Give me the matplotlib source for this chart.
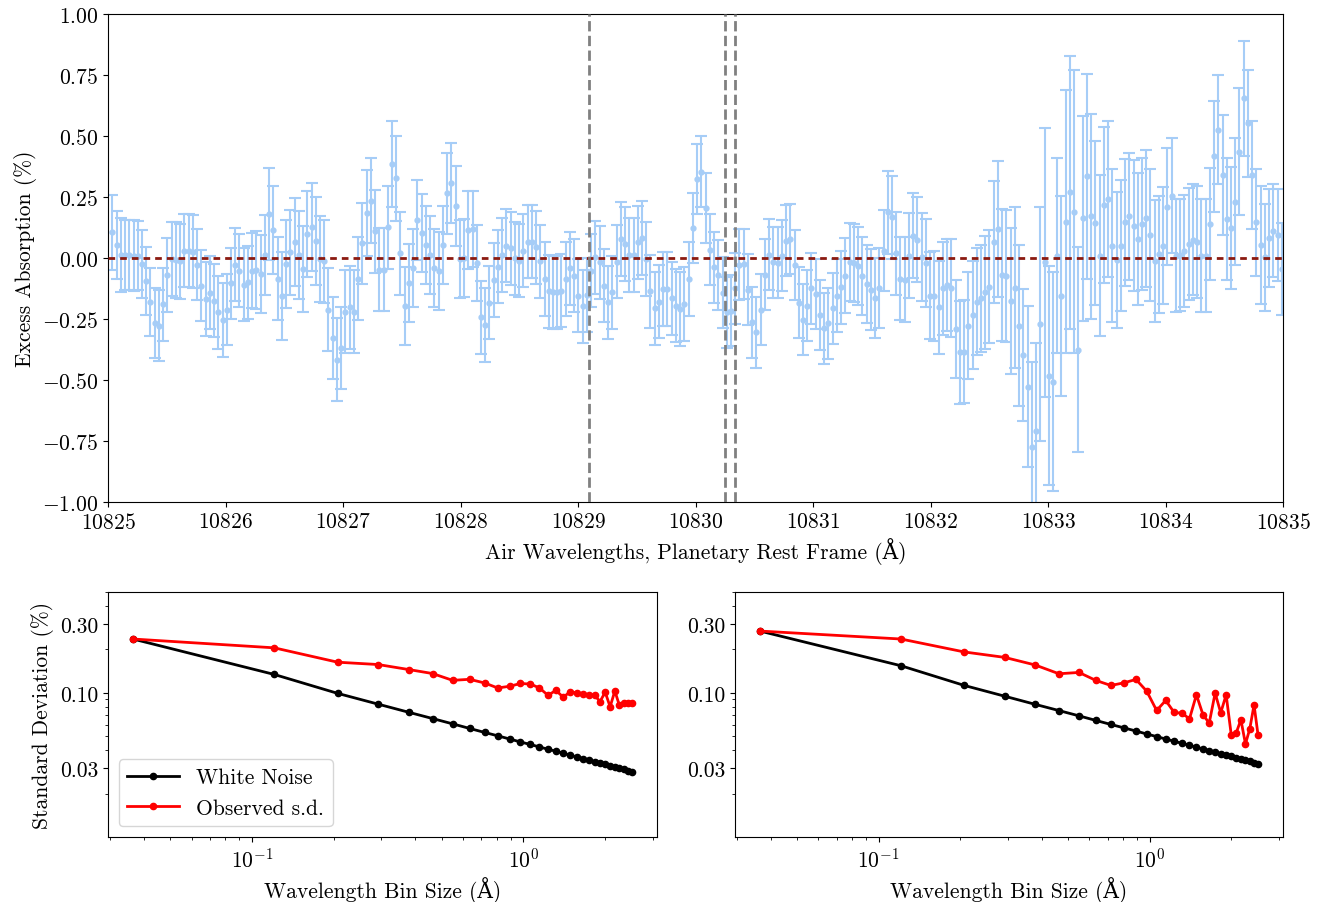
import numpy as np
import matplotlib
matplotlib.use("Agg")
import matplotlib.pyplot as plt
from matplotlib.ticker import NullFormatter

plt.rcParams['font.family'] = ['cmr10', 'DejaVu Serif']
plt.rcParams['mathtext.fontset'] = 'cm'
plt.rcParams['axes.formatter.use_mathtext'] = True
plt.rcParams['font.size'] = 15.5

# excess absorption spectrum (%), left to right
excess = [
    0.105, 0.053, 0.012, 0.012, 0.012, 0.01, 0.01, -0.025, -0.093, -0.18,
    -0.266, -0.277, -0.19, -0.07, -0.004, -0.008, -0.014, 0.03, 0.03, 0.026,
    -0.027, -0.113, -0.168, -0.143, -0.175, -0.223, -0.254, -0.212, -0.104, -0.027,
    -0.052, -0.109, -0.1, -0.052,
    -0.05, -0.066, 0.012, 0.18, 0.116, -0.086, -0.157, -0.025, 0.023, 0.067,
    0.012, -0.045, 0.098, 0.128, 0.071, -0.004, -0.014, -0.212, -0.328, -0.417,
    -0.369, -0.22, -0.202, -0.22, -0.086, 0.06, 0.184, 0.235, 0.109, -0.048,
    -0.048, 0.126, 0.385, 0.326, 0.02,
    -0.195, -0.104, -0.042, 0.156, 0.102, 0.055, 0.012, -0.042, -0.055, 0.053,
    0.265, 0.307, 0.214, -0.004, 0.0, 0.116, 0.119, -0.02, -0.243, -0.275,
    -0.184, -0.09, -0.036, 0.012, 0.051, 0.04, -0.001, -0.011, 0.03, 0.067,
    0.067, 0.044, -0.014, -0.086,
    -0.137, -0.141, -0.141, -0.134, -0.086, -0.042, -0.072, -0.154, -0.198, -0.152,
    -0.052, 0.003, -0.018, -0.113, -0.182, -0.141, -0.015, 0.078, 0.057, 0.012,
    0.012, 0.064, 0.082, -0.004, -0.137, -0.206, -0.179, -0.127, -0.127, -0.165,
    -0.195, -0.209, -0.189, -0.086,
    0.123, 0.324, 0.354, 0.205, 0.034, -0.038, -0.07, -0.143, -0.223, -0.216,
    -0.124, -0.027, -0.025, -0.13, -0.264, -0.305, -0.212, -0.068, 0.014, -0.018,
    -0.02, 0.01, 0.071, 0.078, -0.029, -0.184, -0.253, -0.195, -0.124, -0.148,
    -0.234, -0.288, -0.268, -0.206,
    -0.154, -0.12, -0.072, -0.015, -0.02, -0.031, -0.072, -0.107, -0.13, -0.165,
    -0.124, 0.03, 0.187, 0.167, 0.02, -0.086, -0.089, 0.01, 0.092, 0.075,
    0.003, -0.02, -0.154, -0.157, -0.202, -0.124, -0.111, -0.124, -0.291, -0.387,
    -0.384, -0.277, -0.234, -0.179,
    -0.165, -0.141, -0.117, 0.064, 0.119, -0.07, -0.075, -0.176, -0.122, -0.277,
    -0.398, -0.527, -0.776, -0.708, -0.272, -0.018, -0.482, -0.507, 0.01, -0.157,
    0.149, 0.269, 0.19, -0.376, 0.163, 0.335, 0.171, 0.143, 0.01, 0.217,
    0.242, 0.051, -0.008, 0.051, 0.146,
    0.171, 0.133, 0.078, 0.139, 0.163, 0.094, -0.014, 0.016, 0.051, 0.21,
    0.255, 0.01, 0.012, 0.03, 0.057, 0.075, 0.064, 0.01, 0.01, 0.139,
    0.417, 0.526, 0.34, 0.16, 0.122, 0.231, 0.436, 0.654, 0.552, 0.34,
    0.146, 0.053, 0.003, 0.081, 0.112, 0.094, -0.045,
]

excess_err = [
    0.155, 0.14, 0.15, 0.145, 0.145, 0.145, 0.14, 0.14, 0.14, 0.14,
    0.145, 0.145, 0.15, 0.15, 0.15, 0.155, 0.155, 0.15, 0.15, 0.15,
    0.145, 0.145, 0.15, 0.15, 0.15, 0.15, 0.15, 0.145, 0.145, 0.15,
    0.15, 0.15, 0.15, 0.155,
    0.16, 0.16, 0.165, 0.19, 0.18, 0.17, 0.18, 0.18, 0.175, 0.18,
    0.18, 0.175, 0.175, 0.18, 0.18, 0.175, 0.17, 0.17, 0.17, 0.17,
    0.17, 0.17, 0.17, 0.17, 0.17, 0.165, 0.175, 0.175, 0.17, 0.17,
    0.17, 0.17, 0.175, 0.175, 0.17,
    0.16, 0.16, 0.16, 0.165, 0.16, 0.16, 0.16, 0.16, 0.16, 0.16,
    0.165, 0.165, 0.165, 0.16, 0.16, 0.16, 0.155, 0.155, 0.15, 0.15,
    0.15, 0.15, 0.15, 0.15, 0.15, 0.15, 0.15, 0.15, 0.15, 0.15,
    0.15, 0.15, 0.15, 0.15,
    0.15, 0.15, 0.15, 0.15, 0.15, 0.15, 0.15, 0.15, 0.15, 0.15,
    0.15, 0.15, 0.15, 0.15, 0.15, 0.15, 0.15, 0.15, 0.15, 0.15,
    0.15, 0.15, 0.15, 0.15, 0.15, 0.15, 0.15, 0.15, 0.15, 0.15,
    0.15, 0.15, 0.15, 0.15,
    0.145, 0.145, 0.145, 0.145, 0.145, 0.145, 0.145, 0.145, 0.145, 0.145,
    0.145, 0.145, 0.145, 0.145, 0.145, 0.145, 0.145, 0.145, 0.145, 0.145,
    0.145, 0.145, 0.145, 0.145, 0.145, 0.145, 0.145, 0.145, 0.145, 0.145,
    0.145, 0.145, 0.145, 0.145,
    0.15, 0.15, 0.155, 0.16, 0.16, 0.16, 0.16, 0.16, 0.165, 0.165,
    0.165, 0.165, 0.17, 0.17, 0.17, 0.17, 0.175, 0.175, 0.175, 0.175,
    0.18, 0.18, 0.18, 0.185, 0.19, 0.19, 0.19, 0.2, 0.2, 0.21,
    0.21, 0.22, 0.22, 0.22,
    0.22, 0.23, 0.23, 0.25, 0.28, 0.27, 0.27, 0.3, 0.33, 0.33,
    0.27, 0.33, 0.35, 0.36, 0.48, 0.55, 0.45, 0.45, 0.40, 0.41,
    0.54, 0.56, 0.58, 0.42, 0.42, 0.42, 0.42, 0.335, 0.33, 0.32,
    0.32, 0.315, 0.28, 0.27, 0.26,
    0.26, 0.27, 0.27, 0.27, 0.28, 0.27, 0.25, 0.24, 0.24, 0.24,
    0.235, 0.23, 0.23, 0.23, 0.23, 0.227, 0.23, 0.23, 0.23, 0.23,
    0.227, 0.224, 0.245, 0.25, 0.25, 0.26, 0.26, 0.235, 0.22, 0.22,
    0.22, 0.24, 0.22, 0.2, 0.19, 0.19, 0.19,
]

# uniform wavelength grid of the spectrum
wave = np.linspace(10825.037, 10834.99, len(excess))

# He I triplet lines
he_lines = [10829.09, 10830.25, 10830.34]
wave_ticks = [10825, 10826, 10827, 10828, 10829, 10830, 10831, 10832, 10833, 10834, 10835]

# binning test (bin size in Angstrom)
bin_size = [0.0365, 0.121, 0.207, 0.292, 0.378, 0.463, 0.549, 0.634, 0.720, 0.805,
            0.891, 0.976, 1.062, 1.147, 1.233, 1.318, 1.404, 1.489, 1.575, 1.660,
            1.746, 1.831, 1.917, 2.002, 2.088, 2.173, 2.259, 2.344, 2.430, 2.515]

white_left = [0.236, 0.134, 0.0991, 0.0834, 0.0733, 0.0663, 0.0609, 0.0566, 0.0531, 0.0503,
              0.0478, 0.0456, 0.0438, 0.0421, 0.0406, 0.0393, 0.0381, 0.0369, 0.0359, 0.0350,
              0.0341, 0.0333, 0.0326, 0.0319, 0.0312, 0.0306, 0.0300, 0.0294, 0.0289, 0.0284]
obs_left = [0.236, 0.205, 0.163, 0.157, 0.145, 0.136, 0.122, 0.124, 0.117, 0.108,
            0.111, 0.116, 0.115, 0.108, 0.096, 0.104, 0.093, 0.102, 0.0995, 0.098,
            0.097, 0.096, 0.087, 0.101, 0.080, 0.103, 0.0817, 0.085, 0.085, 0.085]

white_right = [0.268, 0.154, 0.1125, 0.0947, 0.0832, 0.0753, 0.0692, 0.0643, 0.0603, 0.0571,
               0.0543, 0.0518, 0.0497, 0.0478, 0.0461, 0.0446, 0.0433, 0.0419, 0.0408, 0.0397,
               0.0387, 0.0378, 0.0370, 0.0362, 0.0354, 0.0347, 0.0341, 0.0334, 0.0328, 0.0323]
obs_right = [0.268, 0.236, 0.192, 0.176, 0.156, 0.1355, 0.1384, 0.1218, 0.1124, 0.1173,
             0.1238, 0.1027, 0.0754, 0.0885, 0.0730, 0.0722, 0.0660, 0.0968, 0.0704, 0.0616,
             0.0995, 0.0727, 0.0968, 0.0511, 0.0527, 0.0650, 0.0442, 0.0563, 0.0825, 0.0506]

blue = '#a6cdf7'

fig = plt.figure(figsize=(13.22, 9.03), dpi=100)
ax = fig.add_axes([0.0817, 0.443, 0.8888, 0.5404])
ax.errorbar(wave, excess, yerr=excess_err, fmt='o', ms=3.5, color=blue, ecolor=blue,
            elinewidth=1.5, capsize=4, capthick=1.5, zorder=1)
ax.axhline(0, color='#8b1a10', ls=(0, (2.4, 1.8)), lw=2, zorder=3)
for w in he_lines:
    ax.axvline(w, color='grey', ls='--', lw=2, zorder=3)
ax.set_xlim(10825, 10835)
ax.set_ylim(-1, 1)
ax.set_xticks(wave_ticks)
ax.set_yticks(np.arange(-1, 1.01, 0.25))
ax.ticklabel_format(axis='x', useOffset=False)
ax.set_xlabel('Air Wavelengths, Planetary Rest Frame (Å)')
ax.set_ylabel('Excess Absorption (%)')

ax1 = fig.add_axes([0.0817, 0.072, 0.4153, 0.2713])
ax2 = fig.add_axes([0.556, 0.072, 0.4145, 0.2713])
for a, wn, ob in [(ax1, white_left, obs_left), (ax2, white_right, obs_right)]:
    a.plot(bin_size, wn, 'k.-', lw=2, ms=9, label='White Noise')
    a.plot(bin_size, ob, 'r.-', lw=2, ms=9, label='Observed s.d.')
    a.set_xscale('log')
    a.set_yscale('log')
    a.set_ylim(0.01, 0.5)
    a.set_yticks([0.03, 0.1, 0.3], labels=['0.03', '0.10', '0.30'])
    a.yaxis.set_minor_formatter(NullFormatter())
    a.set_xlabel('Wavelength Bin Size (Å)')
ax1.set_ylabel('Standard Deviation (%)')
ax1.legend(loc='lower left', handlelength=2.4)

fig.savefig('out.png', dpi=100)
